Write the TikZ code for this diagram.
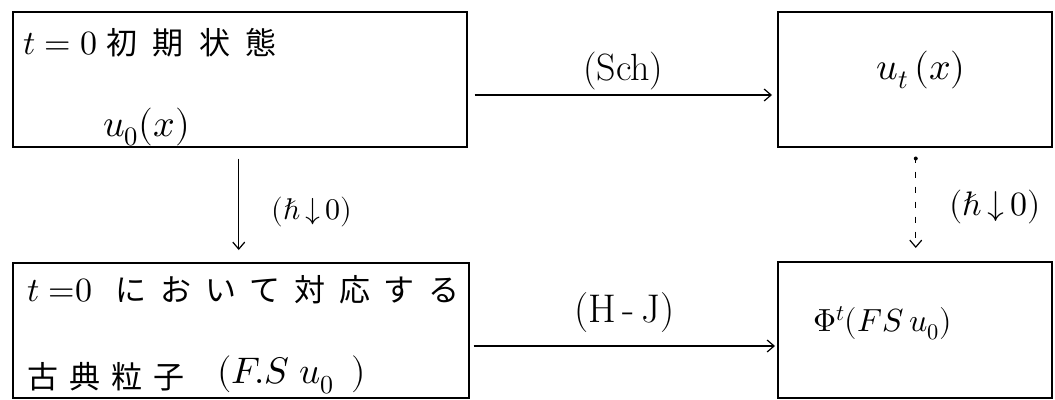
\documentclass[tikz,border=0pt]{standalone}
\usepackage{fontspec}
\usepackage{unicode-math}
\setmathfont{Latin Modern Math}
\newfontfamily\cjk{Noto Sans CJK JP}[Scale=1.0]
\usetikzlibrary{arrows.meta}
\newcommand{\fsz}[1]{\fontsize{#1}{#1}\selectfont}
\begin{document}
\begin{tikzpicture}[x=1pt,y=-1pt,
  box/.style={draw,line width=1.5pt,inner sep=0pt,anchor=north west},
  lbl/.style={inner sep=0pt},
  conn/.style={line width=1.2pt,-{Straight Barb[length=7pt,width=12pt,line width=1.2pt]}},
  dconn/.style={conn,dash pattern=on 6pt off 9pt}]
\useasboundingbox (0,0) rectangle (1055,399);
% boxes
\node[box,minimum width=454pt,minimum height=135pt] (tl) at (12,11) {};
\node[box,minimum width=274pt,minimum height=135pt] (tr) at (777,11) {};
\node[box,minimum width=456pt,minimum height=135pt] (bl) at (12,262) {};
\node[box,minimum width=274pt,minimum height=136pt] (br) at (777,261) {};
% texts
\node[lbl,anchor=west,font=\fsz{34}] (t1a) at (23,44) {$t = 0$};
\node[lbl,anchor=west] (t1b) at (106,43) {\cjk\fsz{31}\addfontfeatures{LetterSpace=50}初期状態};
\node[lbl,anchor=west,font=\fsz{38}] (t1c) at (103,127) {$u_0(x)$};
\node[lbl,font=\fsz{38}] (t2) at (921,70) {$u_t\,(x)$};
\node[lbl,anchor=west,font=\fsz{34}] (t3a) at (27,291) {$t\;{=}0$};
\node[lbl,anchor=west] (t3b) at (115,290) {\cjk\fsz{31}\addfontfeatures{LetterSpace=45}において対応する};
\node[lbl,anchor=west] (t3c) at (27,377) {\cjk\fsz{31}\addfontfeatures{LetterSpace=36}古典粒子};
\node[lbl,anchor=west,font=\fsz{37}] (t3d) at (217,375) {$(F\!.S\;u_0\ \,)$};
\node[lbl,anchor=west,font=\fsz{32}] (t4) at (813,323) {$\Phi^t(FS\,u_0)$};
% connectors
\coordinate (ya) at (0,95);
\coordinate (yb) at (0,346);
\draw[conn] ([xshift=7pt]tl.east |- ya) -- ([xshift=-5pt]tr.west |- ya)
  node[lbl,midway,above=4pt,font=\fsz{38}] (l1) {(Sch)};
\draw[conn] ([xshift=-1pt,yshift=-11pt]tl.south) -- ([xshift=-2pt,yshift=12pt]bl.north)
  node[lbl,midway,right=32pt,yshift=-8pt,font=\fsz{30}] (l2) {$(\hbar\,{\downarrow}\,0)$};
\draw[dconn] ([xshift=1pt,yshift=-9pt]tr.south) -- ([xshift=1pt,yshift=13pt]br.north)
  node[lbl,midway,right=33pt,yshift=-5pt,font=\fsz{34}] (l3) {$(\hbar\,{\downarrow}\,0)$};
\draw[conn] ([xshift=4pt]bl.east |- yb) -- ([xshift=-2pt]br.west |- yb)
  node[lbl,midway,above=13pt,font=\fsz{40}] (l4) {(H\,-\,J)};
\fill ([xshift=1pt,yshift=-11pt]tr.south) circle (2pt);
\end{tikzpicture}
\end{document}
